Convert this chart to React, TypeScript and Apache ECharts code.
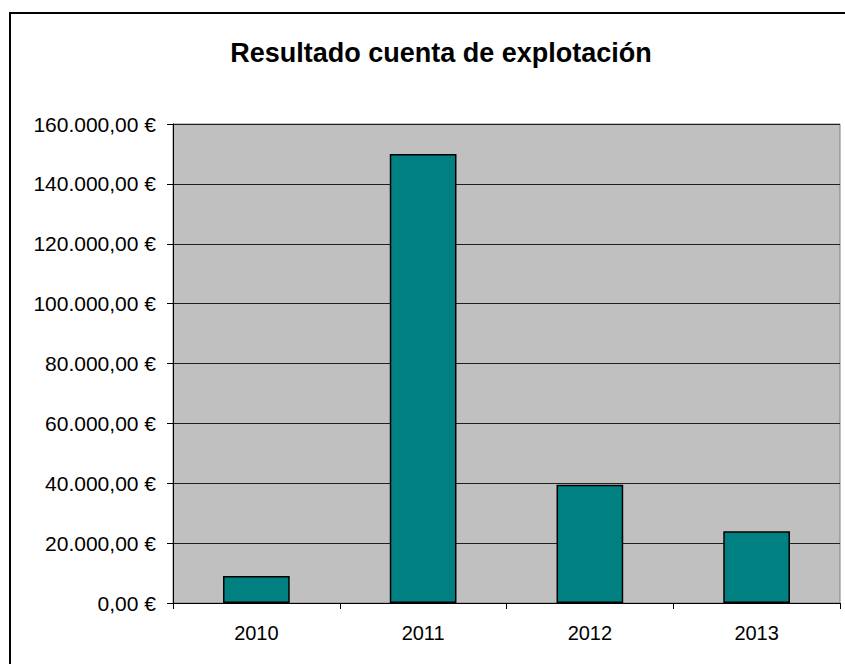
import React, { useEffect, useRef } from "react";
import * as echarts from "echarts";

const categories = ["2010", "2011", "2012", "2013"];
const values = [9000, 150000, 39500, 24000];
const titleText = "Resultado cuenta de explotación";

function fmt(v: number): string {
  const parts = v.toFixed(2).split(".");
  const int = parts[0].replace(/\B(?=(\d{3})+(?!\d))/g, ".");
  return int + "," + parts[1] + " €";
}

export default function App() {
  const ref = useRef<HTMLDivElement>(null);
  useEffect(() => {
    if (!ref.current) return;
    const chart = echarts.init(ref.current, null, { renderer: "svg" });
    chart.setOption({
      animation: false,
      backgroundColor: "#ffffff",
      textStyle: { fontFamily: "Liberation Sans, Arial, sans-serif" },
      title: {
        text: titleText,
        left: 436,
        top: 34,
        textAlign: "center",
        textStyle: { fontSize: 27, fontWeight: "bold", color: "#000", fontFamily: "Liberation Sans, Arial, sans-serif" },
      },
      graphic: [
        {
          type: "rect",
          shape: { x: 10, y: 13, width: 900, height: 700 },
          style: { fill: "none", stroke: "#000", lineWidth: 2 },
          silent: true,
        },
      ],
      grid: {
        left: 173,
        top: 124,
        right: 5,
        bottom: 61,
        show: true,
        backgroundColor: "#C0C0C0",
        borderColor: "#808080",
        borderWidth: 1,
      },
      xAxis: {
        type: "category",
        data: categories,
        axisLine: { show: true, lineStyle: { color: "#000", width: 1 } },
        axisTick: { show: true, length: 6, lineStyle: { color: "#000" } },
        axisLabel: { color: "#000", fontSize: 20, margin: 20, fontFamily: "Liberation Sans, Arial, sans-serif" },
      },
      yAxis: {
        type: "value",
        min: 0,
        max: 160000,
        interval: 20000,
        axisLine: { show: true, lineStyle: { color: "#000", width: 1 } },
        axisTick: { show: true, length: 6, lineStyle: { color: "#000" } },
        axisLabel: {
          color: "#000",
          fontSize: 21,
          margin: 17,
          formatter: (v: number) => fmt(v),
          fontFamily: "Liberation Sans, Arial, sans-serif",
        },
        splitLine: { show: true, lineStyle: { color: "#202020", width: 1 } },
      },
      series: [
        {
          type: "bar",
          data: values,
          barWidth: "40%",
          itemStyle: { color: "#008080", borderColor: "#000", borderWidth: 1.5 },
        },
      ],
    });
    return () => chart.dispose();
  }, []);
  return (
    <div
      ref={ref}
      style={{ position: "absolute", left: 0, top: 0, width: 845, height: 664 }}
    />
  );
}
